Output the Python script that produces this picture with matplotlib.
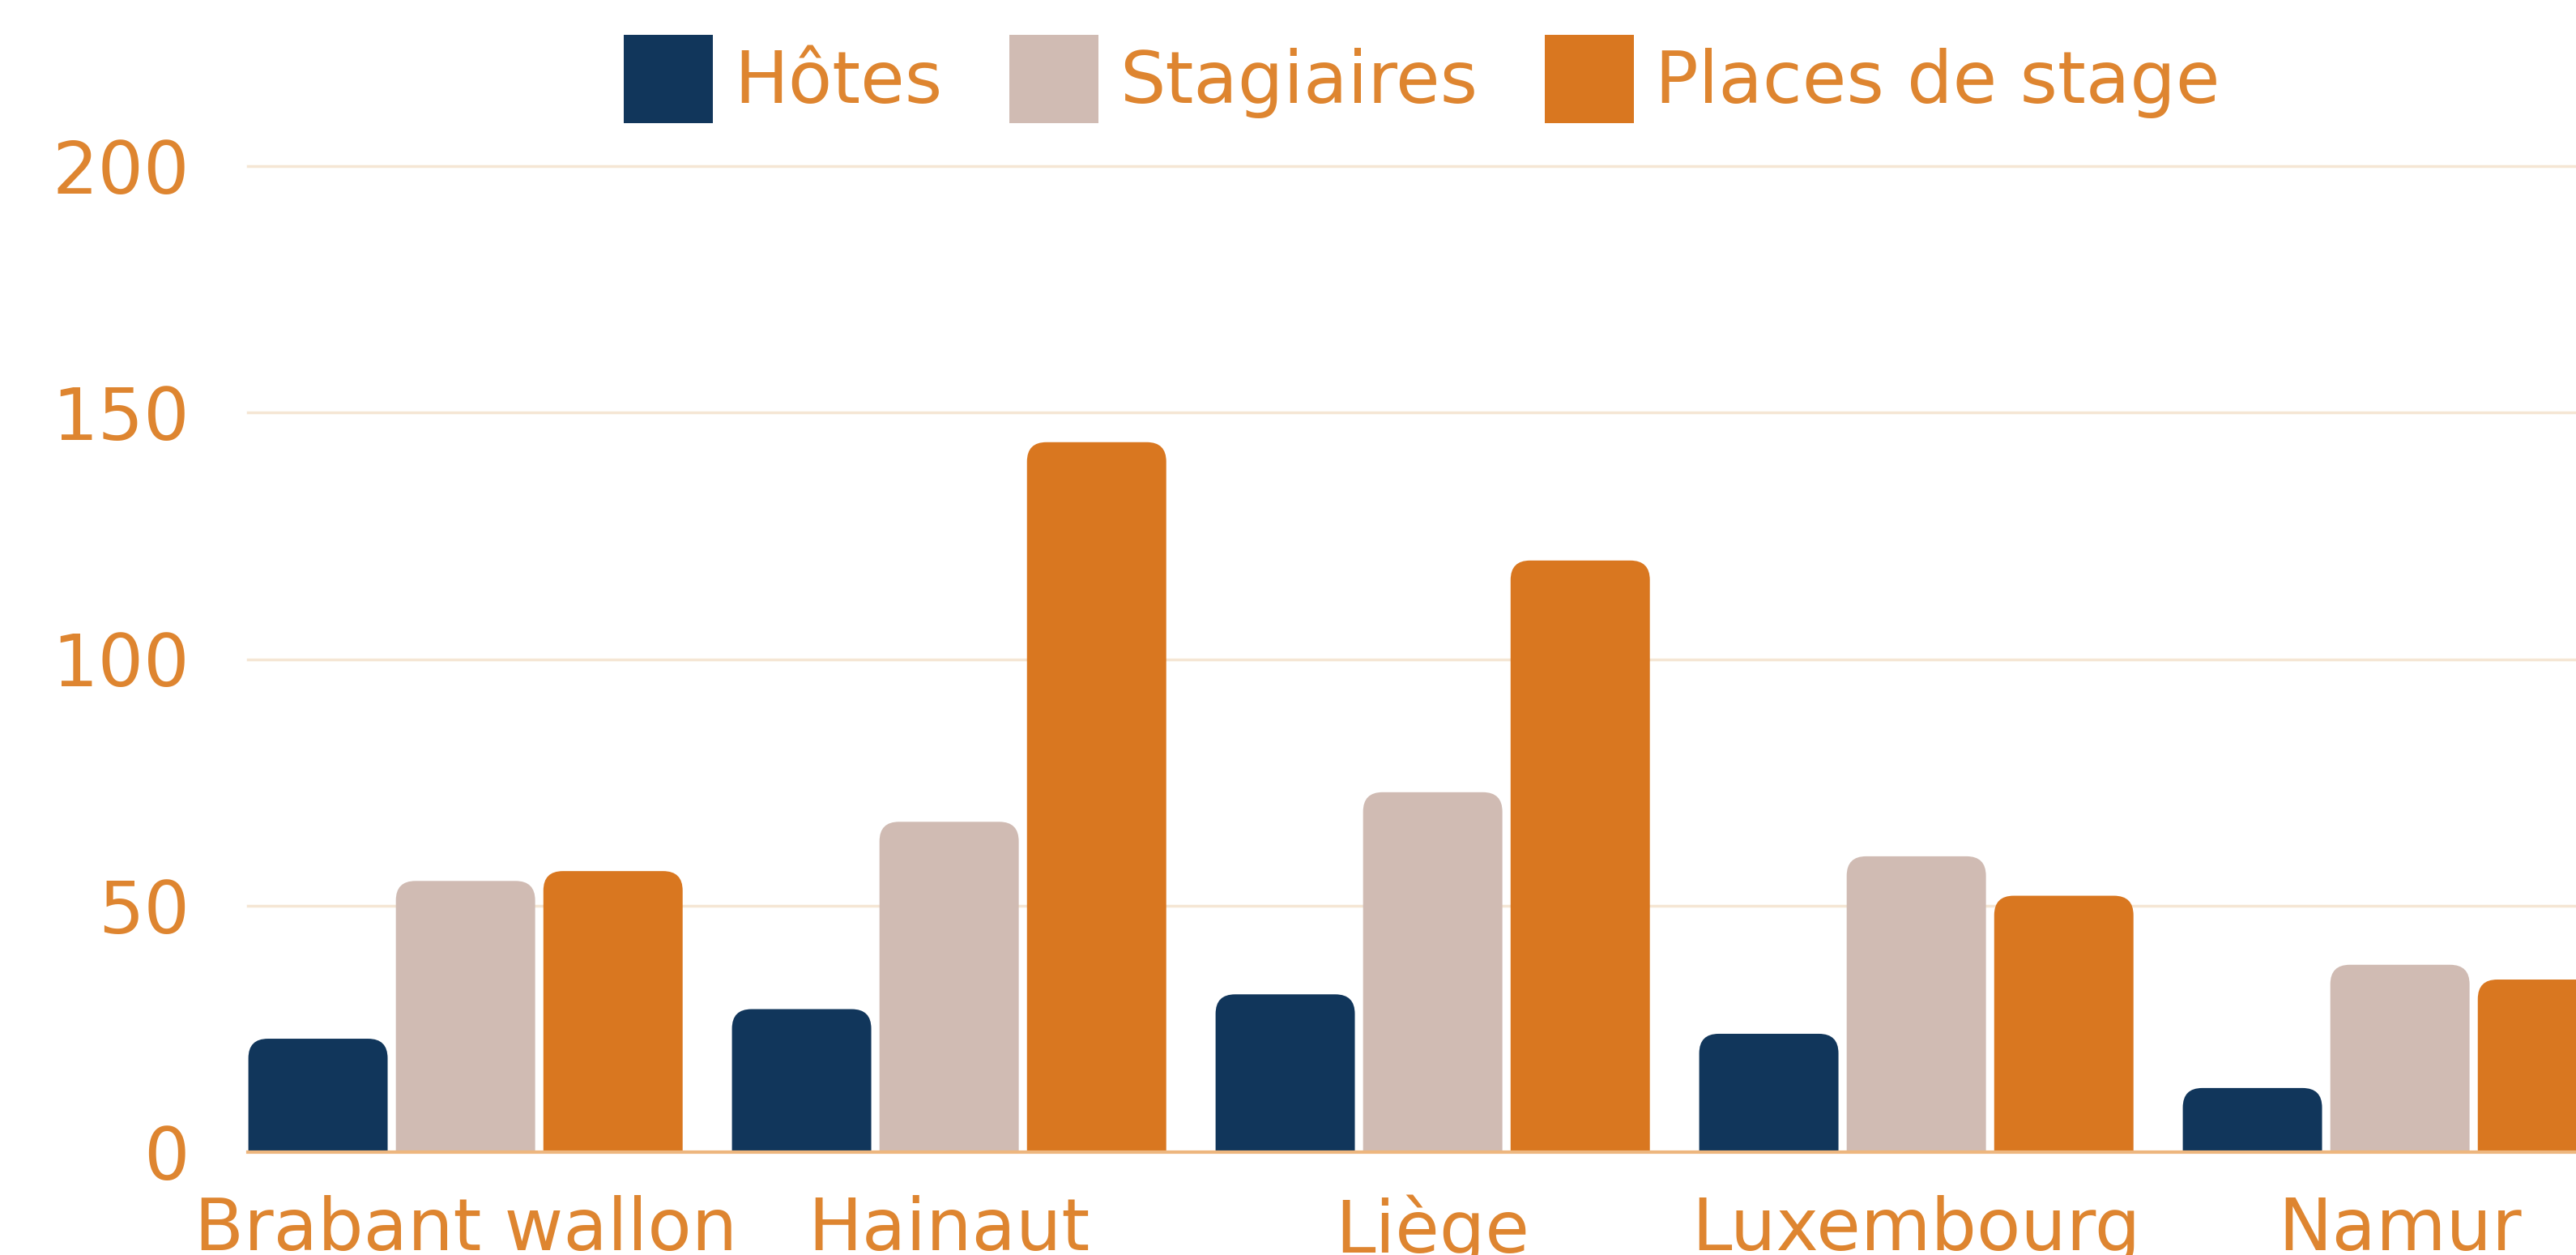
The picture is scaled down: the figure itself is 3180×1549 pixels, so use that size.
import matplotlib.pyplot as plt
from matplotlib.patches import FancyBboxPatch, Patch
import numpy as np

# data
regions = ['Brabant wallon', 'Hainaut', 'Liège', 'Luxembourg', 'Namur']
series_names = ['Hôtes', 'Stagiaires', 'Places de stage']
hotes = [23, 29, 32, 24, 13]
stagiaires = [55, 67, 73, 60, 38]
places = [57, 144, 120, 52, 35]
y_ticks = [0, 50, 100, 150, 200]

colors = ['#11365B', '#D0BBB3', '#D97720']
text_color = '#DE8530'
grid_color = '#F5E6D4'
base_color = '#EDB67E'

plt.rcParams['font.family'] = ['DejaVu Sans']

W, H, DPI = 3180, 1549, 100
fig = plt.figure(figsize=(W / DPI, H / DPI), dpi=DPI)

# axes runs past the right edge of the figure, like the cropped original
left_px, bottom_px, top_px, pitch_px = 306, 1422, 205, 597
ax = fig.add_axes([left_px / W, (H - bottom_px) / H,
                   5 * pitch_px / W, (bottom_px - top_px) / H])
ax.set_xlim(-0.45, 4.55)
ax.set_ylim(0, 200)

bar_w = 0.288
step = 0.305
r_px = 24
px_per_x = pitch_px
px_per_y = (bottom_px - top_px) / 200.0
rx = r_px / px_per_x
ry = r_px / px_per_y

''' rounded-top bars: box starts below zero so the bottom corners get clipped '''
x = np.arange(len(regions))
for k, vals in enumerate([hotes, stagiaires, places]):
    for i, v in enumerate(vals):
        x0 = x[i] + (k - 1) * step - bar_w / 2
        p = FancyBboxPatch((x0, -ry), bar_w, v + ry,
                           boxstyle='round,pad=0,rounding_size=%f' % rx,
                           mutation_aspect=ry / rx,
                           facecolor=colors[k], edgecolor='none', zorder=3)
        ax.add_patch(p)

for t in y_ticks[1:]:
    ax.axhline(t, color=grid_color, lw=2.5, zorder=1, clip_on=False)
ax.axhline(0, color=base_color, lw=3, zorder=4, clip_on=False)

for s in ax.spines.values():
    s.set_visible(False)

ax.set_yticks(y_ticks)
ax.set_yticklabels([str(t) for t in y_ticks])
ax.set_xticks(x)
ax.set_xticklabels(regions)
ax.tick_params(axis='y', length=0, pad=52, labelsize=64, labelcolor=text_color)
ax.tick_params(axis='x', length=0, pad=38, labelsize=64, labelcolor=text_color)

handles = [Patch(facecolor=c, edgecolor='none') for c in colors]
leg = fig.legend(handles, series_names, loc='center', bbox_to_anchor=(0.552, 0.937),
                 ncol=3, frameon=False, fontsize=64, handlelength=1.24,
                 handleheight=1.5, handletextpad=0.29, columnspacing=0.93,
                 borderpad=0)
for t in leg.get_texts():
    t.set_color(text_color)

fig.savefig('out.png', dpi=DPI)
